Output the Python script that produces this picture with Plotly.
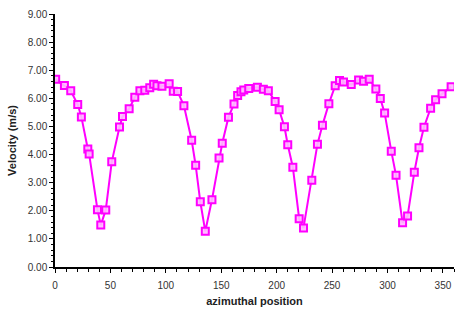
import plotly.graph_objects as go

azimuth = [0.6, 8.5, 14.2, 20.5, 23.8, 29.6, 30.8, 38.3, 41.3, 45.8, 51.2, 58.2, 60.9, 66.9, 72.0, 76.6,
           81.0, 85.5, 89.0, 92.0, 96.5, 103.0, 106.7, 110.6, 116.3, 123.3, 126.9, 131.1, 135.6, 141.6,
           148.0, 150.9, 156.5, 161.5, 164.8, 167.8, 170.3, 174.8, 182.6, 188.0, 192.5, 198.6, 202.2,
           207.0, 210.0, 214.6, 220.3, 224.2, 231.7, 236.8, 241.3, 247.1, 252.8, 256.7, 260.3, 267.3,
           273.9, 278.4, 283.5, 289.5, 293.5, 297.4, 303.4, 307.7, 313.6, 318.1, 324.2, 328.4, 332.9,
           338.9, 343.4, 349.2, 357.4]
velocity = [6.68, 6.46, 6.27, 5.78, 5.34, 4.20, 4.02, 2.04, 1.49, 2.03, 3.74, 4.98, 5.35, 5.63, 6.04, 6.27,
            6.29, 6.38, 6.50, 6.45, 6.43, 6.52, 6.25, 6.24, 5.74, 4.51, 3.62, 2.32, 1.27, 2.39,
            3.88, 4.40, 5.33, 5.80, 6.10, 6.23, 6.30, 6.35, 6.39, 6.32, 6.27, 5.89, 5.59,
            4.99, 4.35, 3.55, 1.72, 1.39, 3.09, 4.37, 5.04, 5.81, 6.45, 6.63, 6.58, 6.49,
            6.65, 6.61, 6.68, 6.33, 5.99, 5.48, 4.12, 3.26, 1.57, 1.81, 3.37, 4.24, 4.97,
            5.65, 5.95, 6.16, 6.41]

MAG = "#FF00FF"
fig = go.Figure()
fig.add_trace(go.Scatter(
    x=azimuth, y=velocity, mode="lines+markers",
    line=dict(color=MAG, width=2),
    marker=dict(symbol="square", size=7, color="rgba(255,185,255,0.9)",
                line=dict(color=MAG, width=2)),
    showlegend=False,
))

font = dict(family="Liberation Sans, Arial, sans-serif", size=10, color="#333333")
fig.update_layout(
    width=459, height=312,
    margin=dict(l=55, r=5, t=14, b=45),
    paper_bgcolor="white", plot_bgcolor="white",
    font=font,
)
fig.update_xaxes(
    range=[0, 360], tickmode="linear", tick0=0, dtick=50,
    showgrid=False, zeroline=False, showline=True, linecolor="black", linewidth=1.5,
    ticks="outside", ticklen=4, tickcolor="black", tickwidth=1,
    minor=dict(ticks="outside", dtick=10, ticklen=3, tickcolor="black", showgrid=False),
    ticklabelstandoff=4,
    title=dict(text="<b>azimuthal position</b>", font=dict(size=11, color="#222222"), standoff=8),
)
fig.update_yaxes(
    range=[0, 9], tickmode="linear", tick0=0, dtick=1, tickformat=".2f",
    showgrid=False, zeroline=False, showline=True, linecolor="black", linewidth=1.5,
    ticks="outside", ticklen=4, tickcolor="black", tickwidth=1,
    minor=dict(ticks="outside", dtick=0.2, ticklen=2, tickcolor="black", showgrid=False),
    title=dict(text="<b>Velocity (m/s)</b>", font=dict(size=11, color="#222222"), standoff=9),
)
fig.write_html("out.html")
